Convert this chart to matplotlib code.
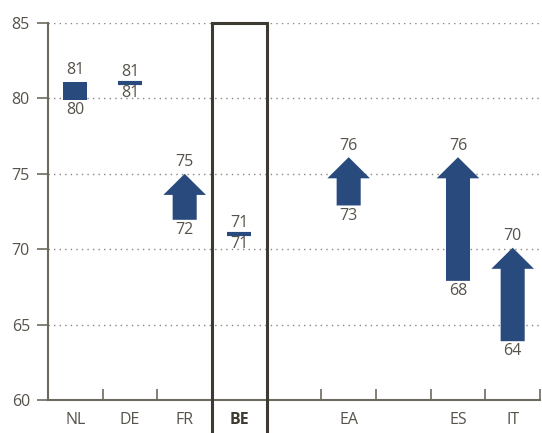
import matplotlib.pyplot as plt
from matplotlib.patches import Rectangle

plt.rcParams['font.family'] = ['Open Sans', 'DejaVu Sans']

# countries, with empty slots used as spacers
labels = ['NL', 'DE', 'FR', 'BE', '', 'EA', '', 'ES', 'IT']
start = [79.9, 81.0, 71.95, 71.0, None, 72.9, None, 67.9, 63.9]
end = [81.1, 81.0, 75.0, 71.0, None, 76.1, None, 76.1, 70.1]
highlight = 'BE'

navy = '#284a7d'
txt = '#57524a'
axcol = '#6e695f'
fs = 11.5

fig = plt.figure(figsize=(5.42, 4.33), dpi=100)
ax = fig.add_axes([48 / 542, 1 - 400 / 433, 492 / 542, 377 / 433])

for i, (s, e) in enumerate(zip(start, end)):
    if s is None:
        continue
    diff = e - s
    if diff > 1.5:
        ax.arrow(i, s, 0, diff, width=0.44, head_width=0.78, head_length=1.4,
                 length_includes_head=True, color=navy, lw=0)
    elif diff > 0.5:
        ax.bar(i, diff, bottom=s, width=0.44, color=navy)
    else:
        ax.hlines(s, i - 0.22, i + 0.22, color=navy, lw=3)
    ax.annotate(f'{e:.0f}', (i, max(s, e)), xytext=(0, 2.5), textcoords='offset points',
                ha='center', va='bottom', fontsize=fs, color=txt)
    ax.annotate(f'{s:.0f}', (i, min(s, e)), xytext=(0, -1.5), textcoords='offset points',
                ha='center', va='top', fontsize=fs, color=txt)

# frame around the highlighted country
hi = labels.index(highlight)
ax.add_patch(Rectangle((hi - 0.5, 50), 1, 35, fill=False, ec='#3d3a31', lw=2.2,
                       clip_on=False, zorder=5))

ax.set_xlim(-0.5, len(labels) - 0.5)
ax.set_ylim(60, 85)
ax.set_yticks(range(60, 86, 5))
ax.yaxis.grid(True, linestyle=(0, (1, 3)), color='#8a867e', lw=1)
ax.set_axisbelow(True)

ax.set_xticks([i + 0.5 for i in range(len(labels))])
ax.set_xticklabels([])
ax.set_xticks(range(len(labels)), minor=True)
ax.set_xticklabels(labels, minor=True, fontsize=fs, color=txt)
ax.tick_params(axis='x', which='major', direction='in', length=8, width=1.2, color=axcol)
ax.tick_params(axis='x', which='minor', length=0, pad=9)
ax.tick_params(axis='y', direction='out', length=8, width=1.2, color=axcol,
               labelsize=fs, labelcolor=txt, pad=5)
for t in ax.get_xticklabels(minor=True):
    if t.get_text() == highlight:
        t.set_fontweight('bold')
        t.set_color('#3d3a31')

for side in ['top', 'right']:
    ax.spines[side].set_visible(False)
for side in ['left', 'bottom']:
    ax.spines[side].set_color(axcol)
    ax.spines[side].set_linewidth(1.5)

fig.savefig('out.png', dpi=100)
